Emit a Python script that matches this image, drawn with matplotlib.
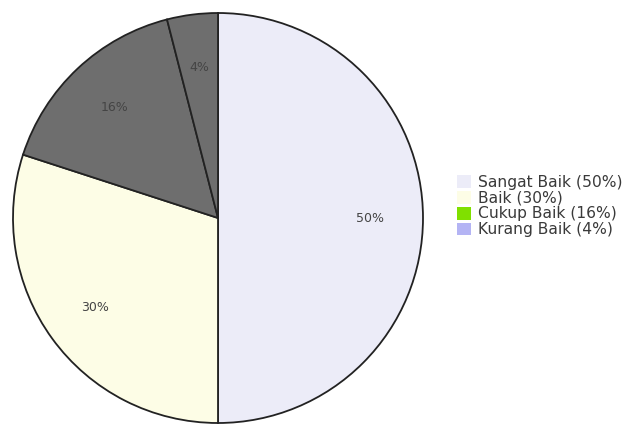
import matplotlib.pyplot as plt
from matplotlib.patches import Patch

# data
categories = ["Sangat Baik", "Baik", "Cukup Baik", "Kurang Baik"]
values = [50, 30, 16, 4]
pie_colors = ["#ececf8", "#fdfde6", "#6e6e6e", "#6e6e6e"]
legend_colors = ["#ececf8", "#fdfde6", "#80e000", "#b4b4f4"]

fig = plt.figure(figsize=(6.31, 4.26), dpi=100)
ax = fig.add_axes([13 / 631, 3 / 426, 410 / 631, 410 / 426])

wedges, texts, autotexts = ax.pie(
    values, colors=pie_colors, startangle=90, counterclock=False,
    autopct="%d%%", pctdistance=0.74,
    wedgeprops=dict(edgecolor="#222222", linewidth=1.3),
    textprops=dict(color="#444444", fontsize=9),
)
ax.set_xlim(-1.0, 1.0)
ax.set_ylim(-1.0, 1.0)
ax.set_aspect("equal")
ax.axis("off")

handles = [Patch(facecolor=c, edgecolor="none") for c in legend_colors]
labels = ["%s (%d%%)" % (n, v) for n, v in zip(categories, values)]
fig.legend(handles, labels, loc="center left", bbox_to_anchor=(443 / 631, 1 - 206 / 426),
           frameon=False, fontsize=11.2, handlelength=0.9, handleheight=0.9,
           handletextpad=0.45, labelspacing=0.06, labelcolor="#3a3a3a")

fig.savefig("out.png", dpi=100)
